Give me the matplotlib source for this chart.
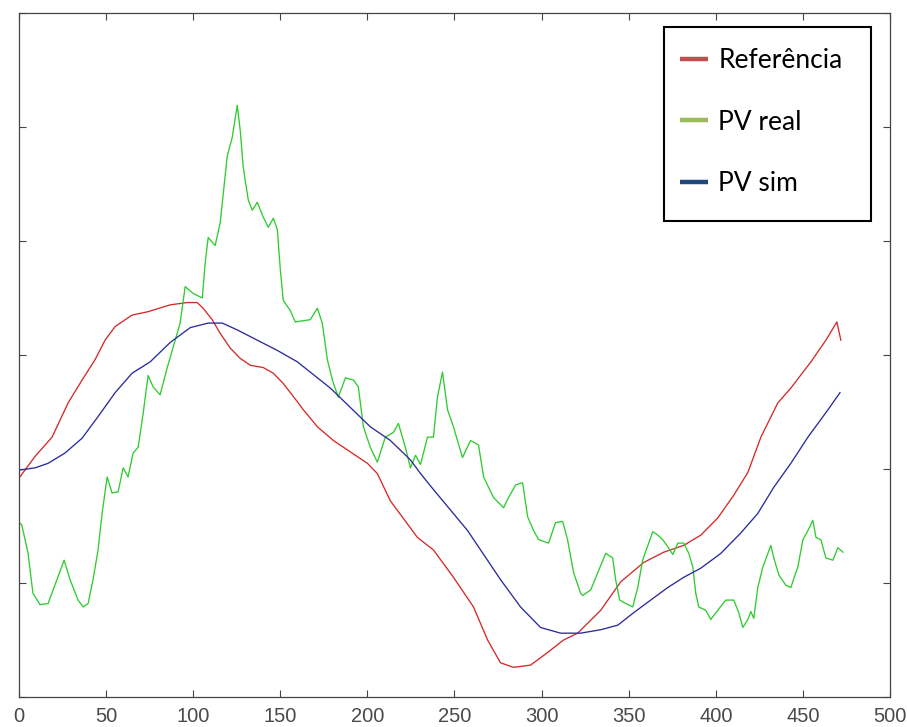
import matplotlib
matplotlib.use("Agg")
from matplotlib import pyplot as plt
from matplotlib.lines import Line2D
from matplotlib.patches import Rectangle

plt.rcParams['font.family'] = ['Liberation Sans', 'DejaVu Sans']

# Referência (curva de referência)
x_ref = [0, 9.2, 19.0, 28.2, 36.2, 43.7, 49.4, 55.2, 64.9, 74.1, 86.8, 96.6, 102.3, 105.7,
         110.9, 115.5, 121.3, 127.0, 132.8, 140.2, 146.0, 151.7, 159.8, 163.2, 171.3, 180.5,
         190.2, 200.0, 205.7, 213.2, 228.7, 237.9, 249.4, 260.9, 269.0, 276.4, 283.9, 293.7,
         303.4, 312.6, 320.7, 333.9, 345.4, 358.6, 370.1, 381.6, 391.4, 401.1, 410.3, 418.4,
         425.9, 435.6, 443.1, 454.6, 463.2, 469.5, 471.8]
y_ref = [1.92, 2.11, 2.28, 2.58, 2.78, 2.96, 3.13, 3.25, 3.35, 3.38, 3.44, 3.46, 3.46, 3.41,
         3.31, 3.19, 3.06, 2.97, 2.91, 2.89, 2.84, 2.75, 2.59, 2.52, 2.37, 2.25,
         2.15, 2.05, 1.96, 1.72, 1.40, 1.29, 1.05, 0.79, 0.50, 0.30, 0.26, 0.28,
         0.39, 0.50, 0.56, 0.76, 1.01, 1.18, 1.27, 1.33, 1.42, 1.57, 1.77, 1.97,
         2.28, 2.58, 2.71, 2.94, 3.13, 3.29, 3.13]

# PV real
x_pv = [0, 1.6, 5.2, 8.0, 12.1, 16.7, 21.8, 25.9, 29.3, 33.9, 36.8, 39.7, 42.5, 45.4, 47.7,
        50.6, 53.4, 56.9, 59.8, 62.6, 65.5, 68.4, 71.3, 74.1, 77.0, 81.0, 85.1, 88.5, 92.5,
        95.4, 100.0, 105.2, 106.9, 108.6, 112.6, 115.5, 119.5, 122.4, 125.3, 127.0, 128.7,
        131.6, 133.9, 136.8, 140.2, 143.1, 146.0, 148.3, 150.0, 151.7, 155.7, 158.6, 167.2,
        171.3, 174.1, 177.0, 179.9, 183.3, 187.4, 192.0, 194.8, 197.7, 201.7, 205.7, 210.3,
        214.9, 217.8, 221.8, 224.7, 227.6, 230.5, 234.5, 237.9, 240.2, 243.1, 246.0, 249.4,
        254.6, 259.2, 263.8, 266.7, 272.4, 278.2, 281.0, 285.1, 289.1, 292.0, 295.4, 298.3,
        304.0, 308.0, 312.1, 314.9, 318.4, 322.4, 323.6, 328.2, 332.2, 336.8, 340.8, 342.5,
        344.8, 348.3, 352.3, 355.2, 358.0, 361.5, 363.8, 366.7, 369.5, 372.4, 375.3, 378.2,
        381.6, 384.5, 386.8, 388.5, 390.2, 394.3, 397.1, 401.1, 405.7, 410.3, 413.2, 415.5,
        418.4, 420.1, 421.8, 424.1, 427.0, 429.9, 431.6, 433.3, 436.2, 440.2, 443.1, 444.8,
        447.1, 450.0, 452.9, 455.7, 457.5, 460.3, 463.2, 467.2, 470.1, 473.0]
y_pv = [1.53, 1.51, 1.26, 0.91, 0.81, 0.82, 1.03, 1.20, 1.03, 0.85, 0.79, 0.82, 1.03, 1.29, 1.61,
        1.93, 1.79, 1.80, 2.01, 1.93, 2.14, 2.19, 2.49, 2.82, 2.72, 2.65, 2.89, 3.07, 3.28,
        3.60, 3.54, 3.50, 3.81, 4.03, 3.96, 4.16, 4.74, 4.91, 5.19, 4.97, 4.65,
        4.36, 4.27, 4.34, 4.21, 4.12, 4.20, 4.10, 3.75, 3.48, 3.39, 3.29, 3.31,
        3.41, 3.28, 2.96, 2.78, 2.63, 2.80, 2.78, 2.72, 2.37, 2.19, 2.06, 2.28,
        2.32, 2.40, 2.19, 2.01, 2.12, 2.04, 2.28, 2.28, 2.63, 2.85, 2.52, 2.37,
        2.10, 2.25, 2.21, 1.93, 1.75, 1.66, 1.75, 1.86, 1.88, 1.58, 1.46, 1.38,
        1.35, 1.53, 1.54, 1.38, 1.09, 0.91, 0.89, 0.94, 1.09, 1.26, 1.22, 1.03,
        0.85, 0.82, 0.79, 0.96, 1.20, 1.35, 1.45, 1.42, 1.38, 1.32, 1.25, 1.35,
        1.35, 1.26, 1.14, 0.91, 0.79, 0.76, 0.68, 0.76, 0.85, 0.85, 0.74, 0.61,
        0.68, 0.75, 0.69, 0.96, 1.14, 1.26, 1.33, 1.22, 1.07, 0.98, 0.96, 1.04,
        1.14, 1.38, 1.46, 1.55, 1.40, 1.38, 1.22, 1.20, 1.31, 1.27]

# PV simulado
x_sim = [0, 9.2, 16.7, 26.4, 36.2, 45.4, 55.2, 64.9, 75.3, 86.8, 98.3, 108.6, 116.7, 125.3,
         136.8, 148.3, 159.8, 167.2, 178.7, 190.2, 201.7, 213.2, 224.7, 230.5, 237.9, 257.5,
         276.4, 287.9, 299.4, 310.9, 322.4, 333.9, 343.7, 352.9, 362.6, 372.4, 381.6, 391.4,
         402.9, 414.4, 424.1, 433.3, 443.1, 452.9, 464.4, 471.3]
y_sim = [1.99, 2.01, 2.05, 2.14, 2.27, 2.46, 2.67, 2.84, 2.94, 3.11, 3.24, 3.28, 3.28, 3.22,
         3.13, 3.04, 2.94, 2.85, 2.71, 2.54, 2.37, 2.25, 2.08, 1.96, 1.82, 1.46,
         1.03, 0.79, 0.61, 0.56, 0.56, 0.59, 0.63, 0.74, 0.85, 0.96, 1.05, 1.13,
         1.26, 1.44, 1.61, 1.84, 2.05, 2.28, 2.52, 2.67]

legend_labels = ["Referência", "PV real", "PV sim"]
legend_colors = ["#c0504d", "#9bbb59", "#1f497d"]

W, H = 907, 727
fig = plt.figure(figsize=(W / 100, H / 100), dpi=100)
ax = fig.add_axes([19 / W, 30 / H, 871 / W, 684 / H])

ax.plot(x_ref, y_ref, color="#d42a2a", linewidth=0.95)
ax.plot(x_pv, y_pv, color="#2fcc2f", linewidth=0.95)
ax.plot(x_sim, y_sim, color="#2b2b9c", linewidth=0.95)

ax.set_xlim(0, 500)
ax.set_ylim(0, 6)
ax.set_xticks(range(0, 501, 50))
ax.set_yticks(range(0, 7))
ax.set_yticklabels([])
ax.tick_params(direction="in", length=5, width=0.8, color="#444444",
               top=True, right=True, labelsize=14.5, labelcolor="#4a4a4a", pad=7)
for s in ax.spines.values():
    s.set_color("#444444")
    s.set_linewidth(0.9)

# caixa da legenda
fig.patches.append(Rectangle((664 / W, 1 - 221 / H), 207 / W, 194 / H,
                             transform=fig.transFigure, fill=False,
                             edgecolor="black", linewidth=1.5, zorder=5))
handles = [Line2D([], [], color=c, linewidth=3.2, solid_capstyle="butt") for c in legend_colors]
leg = fig.legend(handles, legend_labels, loc="upper left",
                 bbox_to_anchor=(667 / W, 1 - 35 / H), bbox_transform=fig.transFigure,
                 frameon=False, borderpad=0, handlelength=1.05, handletextpad=0.4,
                 labelspacing=1.38, prop={"family": "Lato", "size": 19})
for t in leg.get_texts():
    t.set_color("black")

fig.savefig("out.png", dpi=100)
